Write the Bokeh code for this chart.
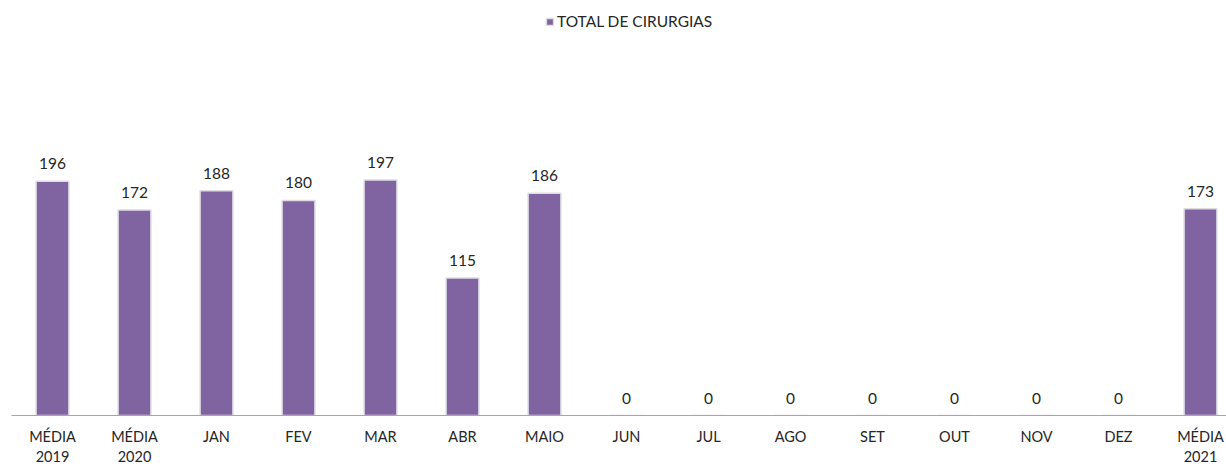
from bokeh.plotting import figure
from bokeh.models import ColumnDataSource, Range1d, Legend, LegendItem, FixedTicker, LabelSet
from bokeh.core.properties import value
from bokeh.embed import file_html
from bokeh.resources import INLINE

categories = ["MÉDIA\n2019", "MÉDIA\n2020", "JAN", "FEV", "MAR", "ABR", "MAIO",
              "JUN", "JUL", "AGO", "SET", "OUT", "NOV", "DEZ", "MÉDIA\n2021"]
values = [196, 172, 188, 180, 197, 115, 186, 0, 0, 0, 0, 0, 0, 0, 173]
series_name = "TOTAL DE CIRURGIAS"

xs = list(range(len(categories)))
src = ColumnDataSource(dict(x=xs, top=values, label=[str(v) for v in values]))

W, H = 1226, 468
left, bottom_b, top_b = 11, 53, 10
frame_w = W - left
px_per_cat = 82.0
x_start = -0.5
x_end = x_start + frame_w / px_per_cat
frame_h = H - bottom_b - top_b
y_end = frame_h / 1.195

p = figure(width=W, height=H, output_backend="svg", toolbar_location=None,
           x_range=Range1d(x_start, x_end), y_range=Range1d(0, y_end),
           min_border_left=left, min_border_right=0, min_border_top=top_b,
           min_border_bottom=bottom_b)
p.outline_line_color = None
p.xgrid.visible = False
p.ygrid.visible = False
p.yaxis.visible = False
p.background_fill_color = "white"
p.border_fill_color = "white"

r = p.vbar(x="x", top="top", width=0.4, source=src, fill_color="#8064A2",
           line_color="#dedbe3", line_width=1.5)

labels = LabelSet(x="x", y="top", text="label", source=src, y_offset=12,
                  text_align="center", text_baseline="bottom",
                  text_font=value("Lato"), text_font_size="15.5px", text_color="#262626")
p.add_layout(labels)

ax = p.xaxis[0]
ax.ticker = FixedTicker(ticks=xs)
ax.major_label_overrides = {i: c for i, c in enumerate(categories)}
ax.major_tick_line_color = None
ax.minor_tick_line_color = None
ax.major_tick_out = 0
ax.major_tick_in = 0
ax.axis_line_color = "#a6a6a6"
ax.axis_line_width = 1
ax.major_label_text_font = "Lato"
ax.major_label_text_font_size = "14.5px"
ax.major_label_text_color = "#262626"
ax.major_label_text_line_height = 1.18
ax.major_label_standoff = 12

legend = Legend(items=[LegendItem(label=series_name, renderers=[r])],
                location=(534, 385), orientation="horizontal",
                border_line_alpha=0, background_fill_alpha=0,
                glyph_width=9, glyph_height=9, label_text_font="Lato",
                label_text_font_size="15.5px", label_text_color="#262626",
                padding=0, margin=0, label_standoff=3, spacing=0,
                label_height=10)
p.add_layout(legend, "center")

open("out.html", "w").write(file_html(p, INLINE))
